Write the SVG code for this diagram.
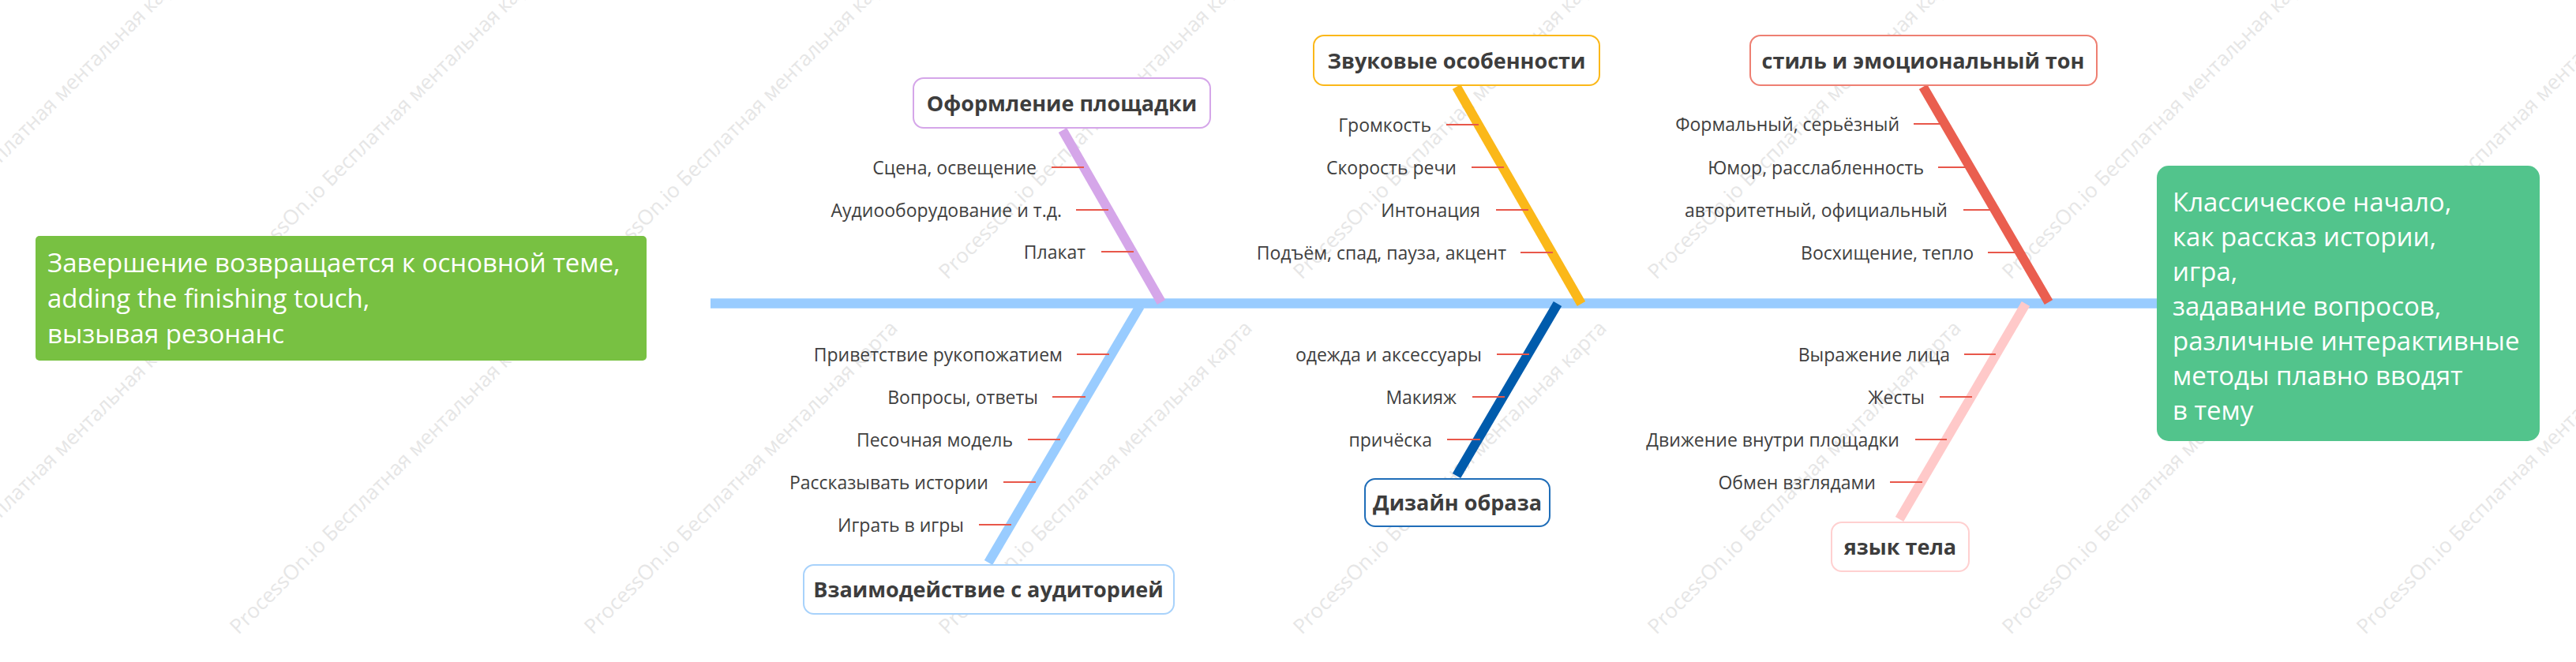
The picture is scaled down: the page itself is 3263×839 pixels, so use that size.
<svg xmlns="http://www.w3.org/2000/svg" width="3263" height="839" viewBox="0 0 3263 839">
<style>
.wm{font-family:"Open Sans","Noto Sans",sans-serif;font-size:26px;fill:#e6e6e6}
.it{font-family:"Open Sans","Noto Sans",sans-serif;font-size:23px;fill:#404040;text-anchor:end}
.lb{font-family:"Open Sans","Noto Sans",sans-serif;font-size:27px;font-weight:bold;fill:#3d3d3d;text-anchor:middle}
.box{fill:#ffffff;stroke-width:2}
.tk{stroke:#e8574a;stroke-width:2}
.bn{stroke-width:12;fill:none}
.big{font-family:"Open Sans","Noto Sans",sans-serif;fill:#ffffff}
</style>
<rect x="0" y="0" width="3263" height="839" fill="#ffffff"/>
<g id="watermarks">
<text class="wm" transform="translate(-147,-95) rotate(-45)">ProcessOn.io Бесплатная ментальная карта</text>
<text class="wm" transform="translate(302,-95) rotate(-45)">ProcessOn.io Бесплатная ментальная карта</text>
<text class="wm" transform="translate(751,-95) rotate(-45)">ProcessOn.io Бесплатная ментальная карта</text>
<text class="wm" transform="translate(1200,-95) rotate(-45)">ProcessOn.io Бесплатная ментальная карта</text>
<text class="wm" transform="translate(1649,-95) rotate(-45)">ProcessOn.io Бесплатная ментальная карта</text>
<text class="wm" transform="translate(2098,-95) rotate(-45)">ProcessOn.io Бесплатная ментальная карта</text>
<text class="wm" transform="translate(2547,-95) rotate(-45)">ProcessOn.io Бесплатная ментальная карта</text>
<text class="wm" transform="translate(2996,-95) rotate(-45)">ProcessOn.io Бесплатная ментальная карта</text>
<text class="wm" transform="translate(-147,355) rotate(-45)">ProcessOn.io Бесплатная ментальная карта</text>
<text class="wm" transform="translate(302,355) rotate(-45)">ProcessOn.io Бесплатная ментальная карта</text>
<text class="wm" transform="translate(751,355) rotate(-45)">ProcessOn.io Бесплатная ментальная карта</text>
<text class="wm" transform="translate(1200,355) rotate(-45)">ProcessOn.io Бесплатная ментальная карта</text>
<text class="wm" transform="translate(1649,355) rotate(-45)">ProcessOn.io Бесплатная ментальная карта</text>
<text class="wm" transform="translate(2098,355) rotate(-45)">ProcessOn.io Бесплатная ментальная карта</text>
<text class="wm" transform="translate(2547,355) rotate(-45)">ProcessOn.io Бесплатная ментальная карта</text>
<text class="wm" transform="translate(2996,355) rotate(-45)">ProcessOn.io Бесплатная ментальная карта</text>
<text class="wm" transform="translate(-147,805) rotate(-45)">ProcessOn.io Бесплатная ментальная карта</text>
<text class="wm" transform="translate(302,805) rotate(-45)">ProcessOn.io Бесплатная ментальная карта</text>
<text class="wm" transform="translate(751,805) rotate(-45)">ProcessOn.io Бесплатная ментальная карта</text>
<text class="wm" transform="translate(1200,805) rotate(-45)">ProcessOn.io Бесплатная ментальная карта</text>
<text class="wm" transform="translate(1649,805) rotate(-45)">ProcessOn.io Бесплатная ментальная карта</text>
<text class="wm" transform="translate(2098,805) rotate(-45)">ProcessOn.io Бесплатная ментальная карта</text>
<text class="wm" transform="translate(2547,805) rotate(-45)">ProcessOn.io Бесплатная ментальная карта</text>
<text class="wm" transform="translate(2996,805) rotate(-45)">ProcessOn.io Бесплатная ментальная карта</text>
</g>
<g id="connectors">
<line x1="900" y1="384.5" x2="2732" y2="384.5" stroke="#99ccff" stroke-width="12.5"/>
<line class="bn" x1="1346" y1="165" x2="1471" y2="383" stroke="#d5a6e9"/>
<line class="bn" x1="1845" y1="110" x2="2003" y2="385" stroke="#fbb819"/>
<line class="bn" x1="2436" y1="110" x2="2595" y2="383" stroke="#ea5e4f"/>
<line class="bn" x1="1444" y1="388" x2="1252" y2="713" stroke="#99ccff"/>
<line class="bn" x1="1973" y1="385" x2="1845" y2="603" stroke="#005bac"/>
<line class="bn" x1="2566" y1="385" x2="2406" y2="658" stroke="#ffc9c9"/>
<line class="tk" x1="1332" y1="212" x2="1373" y2="212"/>
<line class="tk" x1="1363" y1="266" x2="1404" y2="266"/>
<line class="tk" x1="1395" y1="319" x2="1436" y2="319"/>
<line class="tk" x1="1832" y1="158" x2="1873" y2="158"/>
<line class="tk" x1="1864" y1="212" x2="1905" y2="212"/>
<line class="tk" x1="1895" y1="266" x2="1936" y2="266"/>
<line class="tk" x1="1926" y1="320" x2="1967" y2="320"/>
<line class="tk" x1="2424" y1="157" x2="2458" y2="157"/>
<line class="tk" x1="2455" y1="212" x2="2490" y2="212"/>
<line class="tk" x1="2487" y1="266" x2="2521" y2="266"/>
<line class="tk" x1="2518" y1="320" x2="2552" y2="320"/>
<line class="tk" x1="1364" y1="449" x2="1405" y2="449"/>
<line class="tk" x1="1333" y1="503" x2="1375" y2="503"/>
<line class="tk" x1="1302" y1="557" x2="1343" y2="557"/>
<line class="tk" x1="1271" y1="611" x2="1312" y2="611"/>
<line class="tk" x1="1240" y1="665" x2="1281" y2="665"/>
<line class="tk" x1="1896" y1="449" x2="1937" y2="449"/>
<line class="tk" x1="1865" y1="503" x2="1906" y2="503"/>
<line class="tk" x1="1833" y1="557" x2="1875" y2="557"/>
<line class="tk" x1="2488" y1="449" x2="2528" y2="449"/>
<line class="tk" x1="2457" y1="503" x2="2498" y2="503"/>
<line class="tk" x1="2426" y1="557" x2="2466" y2="557"/>
<line class="tk" x1="2394" y1="611" x2="2435" y2="611"/>
</g>
<g id="tail">
<rect x="45" y="299" width="774" height="158" rx="5" fill="#78c142"/>
<text class="big" font-size="33"><tspan x="60" y="345">Завершение возвращается к основной теме,</tspan><tspan x="60" y="390">adding the finishing touch,</tspan><tspan x="60" y="435">вызывая резонанс</tspan></text>
</g>
<g id="head">
<rect x="2732" y="210" width="485" height="349" rx="15" fill="#52c48c"/>
<text class="big" font-size="33"><tspan x="2752" y="268">Классическое начало,</tspan><tspan x="2752" y="312">как рассказ истории,</tspan><tspan x="2752" y="356">игра,</tspan><tspan x="2752" y="400">задавание вопросов,</tspan><tspan x="2752" y="444">различные интерактивные</tspan><tspan x="2752" y="488">методы плавно вводят</tspan><tspan x="2752" y="532">в тему</tspan></text>
</g>
<g id="venue">
<rect class="box" x="1157" y="99" width="376" height="63" rx="13" stroke="#d5a6e9"/>
<text class="lb" x="1345" y="141">Оформление площадки</text>
</g>
<g id="venue-1"><text class="it" x="1313" y="221">Сцена, освещение</text></g>
<g id="venue-2"><text class="it" x="1345" y="275">Аудиооборудование и т.д.</text></g>
<g id="venue-3"><text class="it" x="1375" y="328">Плакат</text></g>
<g id="sound">
<rect class="box" x="1664" y="45" width="362" height="63" rx="13" stroke="#fbb819"/>
<text class="lb" x="1845" y="87">Звуковые особенности</text>
</g>
<g id="sound-1"><text class="it" x="1813" y="167">Громкость</text></g>
<g id="sound-2"><text class="it" x="1845" y="221">Скорость речи</text></g>
<g id="sound-3"><text class="it" x="1875" y="275">Интонация</text></g>
<g id="sound-4"><text class="it" x="1908" y="329">Подъём, спад, пауза, акцент</text></g>
<g id="style">
<rect class="box" x="2217" y="45" width="439" height="63" rx="13" stroke="#ee7f72"/>
<text class="lb" x="2436" y="87">стиль и эмоциональный тон</text>
</g>
<g id="style-1"><text class="it" x="2406" y="166">Формальный, серьёзный</text></g>
<g id="style-2"><text class="it" x="2437" y="221">Юмор, расслабленность</text></g>
<g id="style-3"><text class="it" x="2467" y="275">авторитетный, официальный</text></g>
<g id="style-4"><text class="it" x="2500" y="329">Восхищение, тепло</text></g>
<g id="audience">
<rect class="box" x="1018" y="716" width="469" height="62" rx="13" stroke="#a8d2fb"/>
<text class="lb" x="1252" y="757">Взаимодействие с аудиторией</text>
</g>
<g id="audience-1"><text class="it" x="1346" y="458">Приветствие рукопожатием</text></g>
<g id="audience-2"><text class="it" x="1315" y="512">Вопросы, ответы</text></g>
<g id="audience-3"><text class="it" x="1283" y="566">Песочная модель</text></g>
<g id="audience-4"><text class="it" x="1252" y="620">Рассказывать истории</text></g>
<g id="audience-5"><text class="it" x="1221" y="674">Играть в игры</text></g>
<g id="image">
<rect class="box" x="1729" y="607" width="234" height="60" rx="13" stroke="#1f6db8"/>
<text class="lb" x="1846" y="647">Дизайн образа</text>
</g>
<g id="image-1"><text class="it" x="1877" y="458">одежда и аксессуары</text></g>
<g id="image-2"><text class="it" x="1845" y="512">Макияж</text></g>
<g id="image-3"><text class="it" x="1814" y="566">причёска</text></g>
<g id="body">
<rect class="box" x="2320" y="662" width="174" height="62" rx="13" stroke="#ffd0d0"/>
<text class="lb" x="2407" y="703">язык тела</text>
</g>
<g id="body-1"><text class="it" x="2470" y="458">Выражение лица</text></g>
<g id="body-2"><text class="it" x="2438" y="512">Жесты</text></g>
<g id="body-3"><text class="it" x="2406" y="566">Движение внутри площадки</text></g>
<g id="body-4"><text class="it" x="2376" y="620">Обмен взглядами</text></g>
</svg>
